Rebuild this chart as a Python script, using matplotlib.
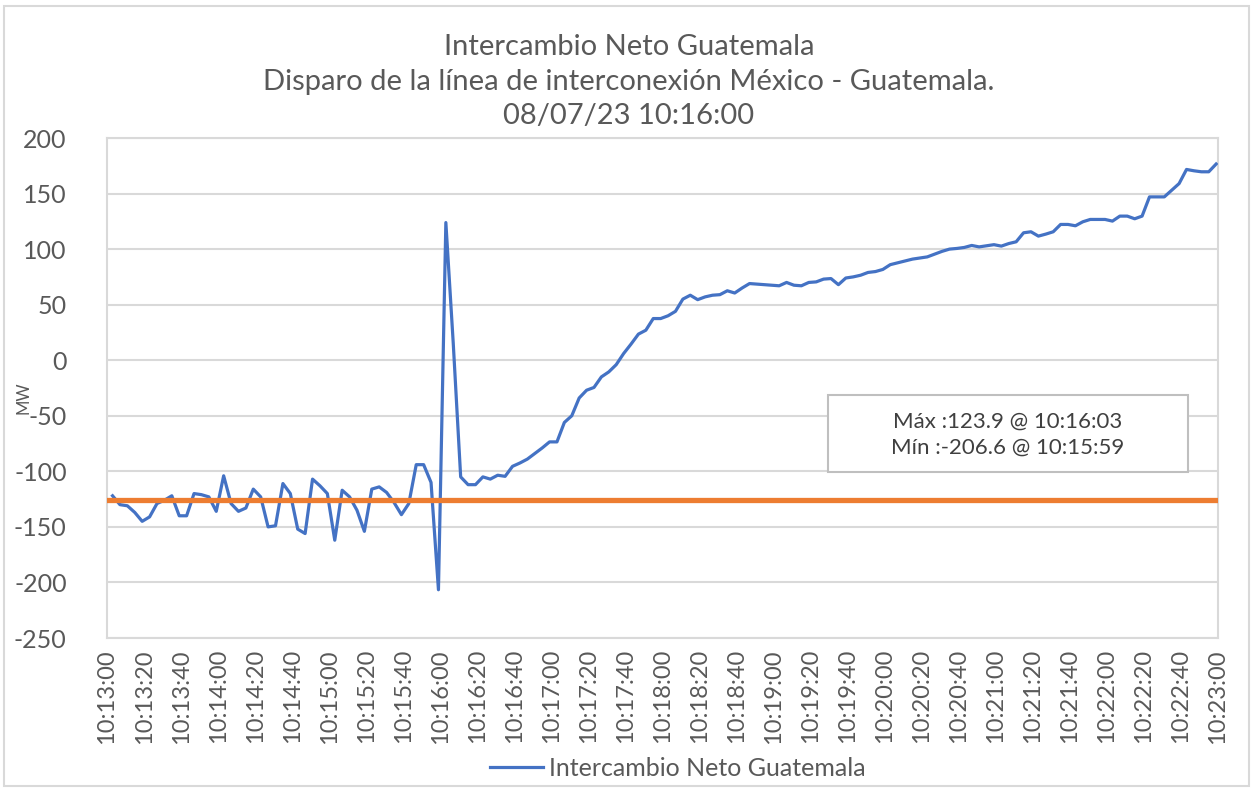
import numpy as np
import matplotlib
matplotlib.use("Agg")
import matplotlib.pyplot as plt
from matplotlib.patches import Rectangle
from matplotlib.ticker import FuncFormatter, MultipleLocator

# Data: samples every 4 s starting 10:13:03 (seconds after 10:13:00)
t_sec = np.arange(3, 600, 4)
mw = [
    -122, -130, -131, -137, -145, -141, -129, -126, -122, -140, -140, -120, -121, -123, -136, -104,
    -129, -136, -133, -116, -123, -150, -149, -111, -120, -152, -156, -107, -113, -120, -162, -117,
    -123, -135, -154, -116, -114, -119, -128, -139, -129, -94, -94, -110, -206.6,
    123.9,
    15, -105, -112, -112, -105, -107, -103.5, -104.5, -95.5, -92.5, -89, -84, -79, -73.5, -73.5,
    -56, -50, -34, -27, -24.5, -15, -10.5, -4, 6, 14.5, 23.5, 27, 37.5, 37.5, 40, 44, 55, 58.5,
    54.5, 57, 58.5, 59, 62.5, 60.5, 65,
    69, 68.5, 68, 67.5, 67, 70, 67.5, 67, 70, 70.5, 73, 73.5, 68, 74, 75, 76.5, 79, 79.8, 81.7,
    86, 87.7, 89.5, 91, 92, 93, 95.5, 98, 100, 100.6, 101.5, 103.3, 102, 103, 104,
    102.7, 105, 106.6, 114.7, 115.6, 111.7, 113.5, 115.6, 122.2, 122.2, 121, 124.6, 126.7, 126.7,
    126.7, 125.2, 129.7, 129.7, 127.3, 129.7, 147, 147, 147, 153, 159, 171.7, 170.5, 169.6, 169.6,
    176.6,
]
reference_mw = -126

title_lines = ["Intercambio Neto Guatemala",
               "Disparo de la línea de interconexión México - Guatemala.",
               "08/07/23 10:16:00"]
series_name = "Intercambio Neto Guatemala"
stats_lines = ["Máx :123.9 @ 10:16:03", "Mín :-206.6 @ 10:15:59"]

plt.rcParams['font.family'] = ['Lato', 'DejaVu Sans']
plt.rcParams['axes.unicode_minus'] = False
txt = '#595959'
grid_c = '#D9D9D9'

fig = plt.figure(figsize=(12.53, 7.89), dpi=100)
ax = fig.add_axes([107/1253, 1-638/789, 1111/1253, 500/789])

ax.plot(t_sec, mw, color='#4472C4', lw=2.3, label=series_name, zorder=3)
ax.axhline(reference_mw, color='#ED7D31', lw=3.8, zorder=4)

ax.set_xlim(0, 600)
ax.set_ylim(-250, 200)
ax.yaxis.set_major_locator(MultipleLocator(50))
ax.xaxis.set_major_locator(MultipleLocator(20))


def fmt_time(x, pos):
    s = int(round(x)) + 13 * 60
    return "10:%02d:%02d" % (s // 60, s % 60)


ax.xaxis.set_major_formatter(FuncFormatter(fmt_time))
ax.grid(axis='y', color=grid_c, lw=1.5)
ax.set_axisbelow(True)
for sp in ax.spines.values():
    sp.set_color(grid_c)
    sp.set_linewidth(1.5)
ax.tick_params(axis='both', length=0, colors=txt)
ax.tick_params(axis='y', labelsize=18, pad=29)
ax.tick_params(axis='x', labelsize=17, pad=8)
for lab in ax.get_xticklabels():
    lab.set_rotation(90)

fig.text(24/1253, 1-398/789, "MW", rotation=90, ha='center', va='center', fontsize=12, color=txt)

for line, yp in zip(title_lines, [47, 82, 116]):
    fig.text(629/1253, 1-yp/789, line, ha='center', va='center', fontsize=21, color=txt)

# stats box
fig.patches.append(Rectangle((828/1253, 1-472/789), 360/1253, 77/789, transform=fig.transFigure,
                             facecolor='white', edgecolor='#BFBFBF', lw=1.5, zorder=5))
for line, yp in zip(stats_lines, [422, 448]):
    fig.text(1008/1253, 1-yp/789, line, ha='center', va='center', fontsize=16, color='#404040', zorder=6)

# outer chart border
fig.patches.append(Rectangle((4/1253, 3/789), 1245/1253, 780/789, transform=fig.transFigure,
                             facecolor='none', edgecolor=grid_c, lw=1.5))

fig.legend(handles=[ax.lines[0]], labels=[series_name], loc='center',
           bbox_to_anchor=(678/1253, 1-768/789), frameon=False, fontsize=18,
           handlelength=2.1, handletextpad=0.25, labelcolor=txt)

fig.savefig("out.png", dpi=100)
